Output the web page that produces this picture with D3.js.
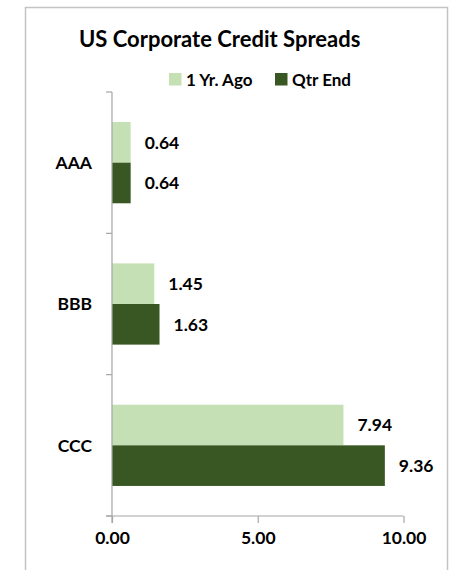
<!DOCTYPE html>
<meta charset="utf-8">
<head>
    <title>US Corporate Credit Spreads</title>
    <script src="https://d3js.org/d3.v7.min.js"></script>
</head>

<style>
    body {
        margin: 0;
        background: #fff;
    }

    text {
        font-family: Lato, "Open Sans", sans-serif;
        font-weight: bold;
        fill: #000;
    }

    .axis path, .axis line {
        stroke: #a6a6a6;
        stroke-width: 1.2px;
    }
</style>

<body>
    <div id="chart"></div>
    <script>
        // data
        var categories = ["AAA", "BBB", "CCC"];
        var seriesNames = ["1 Yr. Ago", "Qtr End"];
        var yearAgo = [0.64, 1.45, 7.94];
        var qtrEnd = [0.64, 1.63, 9.36];
        var xTicks = [0, 5, 10];
        var colors = ["#c5e0b4", "#385723"];

        var width = 452,
            height = 570;

        var svg = d3.select("#chart").append("svg")
            .attr("width", width)
            .attr("height", height);

        // outer frame (no bottom edge visible)
        svg.append("path")
            .attr("d", "M25.5,570 V7.5 H447.5 V570")
            .attr("fill", "none")
            .attr("stroke", "#c4c4c4")
            .attr("stroke-width", 1.5);

        svg.append("text")
            .attr("x", 79)
            .attr("y", 47)
            .style("font-size", "22px")
            .text("US Corporate Credit Spreads");

        var x = d3.scaleLinear()
            .domain([0, 10])
            .range([112, 403.5]);

        var y = d3.scaleBand()
            .domain(categories)
            .range([92, 516]);

        var ySub = d3.scaleBand()
            .domain(seriesNames)
            .range([0, y.bandwidth()])
            .paddingOuter(0.74);

        var rows = categories.map(function (c, i) {
            return { cat: c, vals: [yearAgo[i], qtrEnd[i]] };
        });

        // bars
        var groups = svg.selectAll("g.cat")
            .data(rows)
            .enter().append("g")
            .attr("class", "cat")
            .attr("transform", function (d) { return "translate(0," + y(d.cat) + ")"; });

        groups.selectAll("rect")
            .data(function (d) { return d.vals.map(function (v, j) { return { s: seriesNames[j], v: v, j: j }; }); })
            .enter().append("rect")
            .attr("x", x(0))
            .attr("y", function (d) { return ySub(d.s); })
            .attr("width", function (d) { return x(d.v) - x(0); })
            .attr("height", ySub.bandwidth())
            .attr("fill", function (d) { return colors[d.j]; });

        groups.selectAll("text.val")
            .data(function (d) { return d.vals.map(function (v, j) { return { s: seriesNames[j], v: v }; }); })
            .enter().append("text")
            .attr("class", "val")
            .attr("x", function (d) { return x(d.v) + 14; })
            .attr("y", function (d) { return ySub(d.s) + ySub.bandwidth() / 2; })
            .attr("dy", "0.36em")
            .style("font-size", "17.5px")
            .text(function (d) { return d3.format(".2f")(d.v); });

        // y axis line with ticks at band edges
        var yAxis = svg.append("g").attr("class", "axis");
        yAxis.append("line")
            .attr("x1", x(0)).attr("x2", x(0))
            .attr("y1", y.range()[0]).attr("y2", y.range()[1] + 7);
        var edges = categories.map(function (c) { return y(c); }).concat([y.range()[1]]);
        yAxis.selectAll("line.tick")
            .data(edges)
            .enter().append("line")
            .attr("class", "tick")
            .attr("x1", x(0) - 6).attr("x2", x(0))
            .attr("y1", function (d) { return d; })
            .attr("y2", function (d) { return d; });

        svg.selectAll("text.cat")
            .data(categories)
            .enter().append("text")
            .attr("class", "cat")
            .attr("x", x(0) - 20)
            .attr("y", function (d) { return y(d) + y.bandwidth() / 2; })
            .attr("dy", "0.36em")
            .attr("text-anchor", "end")
            .style("font-size", "17.5px")
            .text(function (d) { return d; });

        // x axis
        var xAxis = svg.append("g")
            .attr("class", "axis")
            .attr("transform", "translate(0," + y.range()[1] + ")")
            .call(d3.axisBottom(x).tickValues(xTicks).tickSize(7).tickSizeOuter(0).tickFormat(d3.format(".2f")));
        xAxis.select(".domain").attr("d", "M" + (x(0) - 6) + ",0H" + x(10));
        xAxis.selectAll("text")
            .attr("y", 22)
            .attr("dy", "0.36em")
            .style("font-size", "17.5px")
            .style("fill", "#000");

        // legend
        var legX = [169, 275];
        var leg = svg.selectAll("g.leg")
            .data(seriesNames)
            .enter().append("g")
            .attr("class", "leg")
            .attr("transform", function (d, i) { return "translate(" + legX[i] + ",73)"; });
        leg.append("rect")
            .attr("width", 12.5)
            .attr("height", 12.5)
            .attr("fill", function (d, i) { return colors[i]; });
        leg.append("text")
            .attr("x", 17)
            .attr("y", 6.5)
            .attr("dy", "0.36em")
            .style("font-size", "17px")
            .text(function (d) { return d; });
    </script>
</body>
</html>
